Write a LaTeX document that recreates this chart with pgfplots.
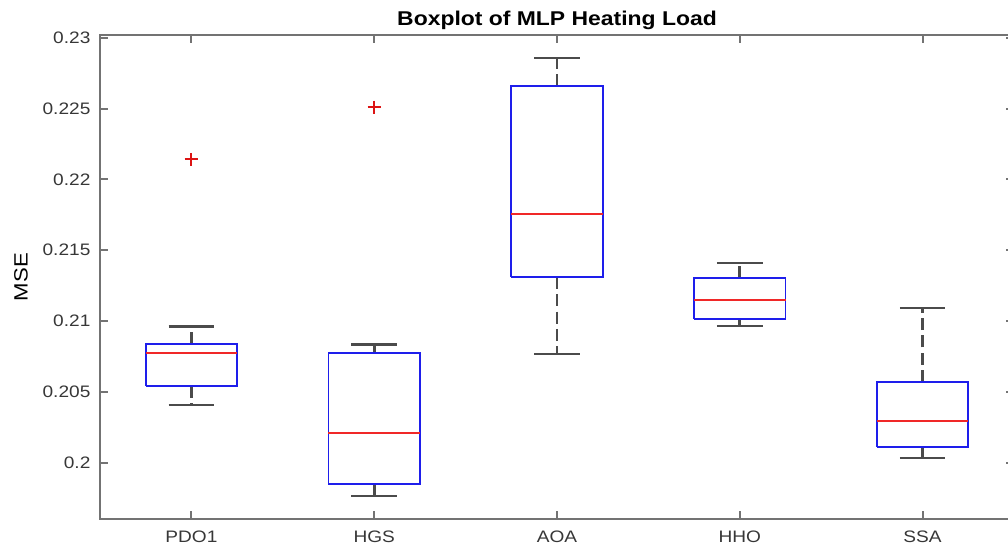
\documentclass[border=0pt]{standalone}
\usepackage{fontspec}
\setmainfont{Liberation Sans}[FakeStretch=1.15]
\usepackage{pgfplots}
\pgfplotsset{compat=1.18}

\definecolor{axgray}{RGB}{115,115,115}
\definecolor{boxblue}{RGB}{30,30,235}
\definecolor{medred}{RGB}{240,40,40}
\definecolor{outred}{RGB}{220,20,20}
\definecolor{wgray}{RGB}{75,75,75}
\definecolor{lblgray}{RGB}{55,55,55}

\pgfplotsset{
  whisk/.style={wgray, line width=2.2bp, dash pattern=on 9bp off 4bp, mark=none},
  cap/.style={wgray, line width=1.7bp, solid, mark=none},
  bx/.style={boxblue, line width=1.4bp, solid, mark=none, line join=miter},
  med/.style={medred, line width=1.4bp, solid, mark=none},
}

\begin{document}
\begin{tikzpicture}
\begin{axis}[
  name=ax,
  scale only axis,
  width=685.5bp, height=363.2bp,
  xmin=0.5, xmax=5.5,
  ymin=0.196, ymax=0.2302,
  xtick={1,2,3,4,5},
  xticklabels={PDO1,HGS,AOA,HHO,SSA},
  ytick={0.2,0.205,0.21,0.215,0.22,0.225,0.23},
  yticklabels={0.2,0.205,0.21,0.215,0.22,0.225,0.23},
  tick align=inside,
  major tick length=6bp,
  axis line style={axgray, line width=1.6bp},
  every tick/.style={axgray, line width=1.6bp},
  tick label style={font=\fontsize{12.5}{14}\selectfont, text=lblgray},
  xticklabel style={anchor=north, inner sep=0pt, yshift=-8.25bp},
  yticklabel style={anchor=east, inner sep=0pt, xshift=-7bp},
  title={Boxplot of MLP Heating Load},
  title style={font=\fontsize{15}{18}\selectfont\bfseries, text=black,
    at={(axis description cs:0.5,1)}, anchor=base, yshift=1.5bp, inner sep=0pt},
  ylabel={MSE},
  ylabel style={font=\fontsize{14.5}{17}\selectfont, text=black,
    at={(axis description cs:-0.0864,0.5)}, anchor=center, inner sep=0pt},
  clip=false,
]
% ---------- PDO1 (lw 0.20405, q1 0.20543, med 0.20776, q3 0.20835, uw 0.20962)
\addplot[whisk] coordinates {(1,0.20835) (1,0.20962)};
\addplot[whisk] coordinates {(1,0.20543) (1,0.20405)};
\addplot[cap] coordinates {(0.875,0.20962) (1.125,0.20962)};
\addplot[cap] coordinates {(0.875,0.20405) (1.125,0.20405)};
\addplot[bx] coordinates {(0.75,0.20543) (1.25,0.20543) (1.25,0.20835) (0.75,0.20835) (0.75,0.20543)};
\addplot[med] coordinates {(0.75,0.20776) (1.25,0.20776)};
% ---------- HGS (lw 0.19763, q1 0.19852, med 0.20207, q3 0.20772, uw 0.20835)
\addplot[whisk] coordinates {(2,0.20772) (2,0.20835)};
\addplot[whisk] coordinates {(2,0.19852) (2,0.19763)};
\addplot[cap] coordinates {(1.875,0.20835) (2.125,0.20835)};
\addplot[cap] coordinates {(1.875,0.19763) (2.125,0.19763)};
\addplot[bx] coordinates {(1.75,0.19852) (2.25,0.19852) (2.25,0.20772) (1.75,0.20772) (1.75,0.19852)};
\addplot[med] coordinates {(1.75,0.20207) (2.25,0.20207)};
% ---------- AOA (lw 0.20767, q1 0.21312, med 0.21755, q3 0.22658, uw 0.22860)
\addplot[whisk] coordinates {(3,0.22658) (3,0.22860)};
\addplot[whisk] coordinates {(3,0.21312) (3,0.20767)};
\addplot[cap] coordinates {(2.875,0.22860) (3.125,0.22860)};
\addplot[cap] coordinates {(2.875,0.20767) (3.125,0.20767)};
\addplot[bx] coordinates {(2.75,0.21312) (3.25,0.21312) (3.25,0.22658) (2.75,0.22658) (2.75,0.21312)};
\addplot[med] coordinates {(2.75,0.21755) (3.25,0.21755)};
% ---------- HHO (lw 0.20967, q1 0.21012, med 0.21148, q3 0.21301, uw 0.21411)
\addplot[whisk] coordinates {(4,0.21301) (4,0.21411)};
\addplot[whisk] coordinates {(4,0.21012) (4,0.20967)};
\addplot[cap] coordinates {(3.875,0.21411) (4.125,0.21411)};
\addplot[cap] coordinates {(3.875,0.20967) (4.125,0.20967)};
\addplot[bx] coordinates {(3.75,0.21012) (4.25,0.21012) (4.25,0.21301) (3.75,0.21301) (3.75,0.21012)};
\addplot[med] coordinates {(3.75,0.21148) (4.25,0.21148)};
% ---------- SSA (lw 0.20035, q1 0.20113, med 0.20292, q3 0.20569, uw 0.21094)
\addplot[whisk] coordinates {(5,0.20569) (5,0.21094)};
\addplot[whisk] coordinates {(5,0.20113) (5,0.20035)};
\addplot[cap] coordinates {(4.875,0.21094) (5.125,0.21094)};
\addplot[cap] coordinates {(4.875,0.20035) (5.125,0.20035)};
\addplot[bx] coordinates {(4.75,0.20113) (5.25,0.20113) (5.25,0.20569) (4.75,0.20569) (4.75,0.20113)};
\addplot[med] coordinates {(4.75,0.20292) (5.25,0.20292)};
% ---------- outliers (PDO1, HGS)
\addplot[color=outred, only marks, mark=+, mark size=5bp,
  mark options={color=outred, line width=1.5bp, solid}]
  coordinates {(1,0.22141) (2,0.22510)};
\end{axis}
\pgfresetboundingbox
\path[use as bounding box]
  ([xshift=-75bp,yshift=-20.8bp]ax.south west) rectangle
  ([xshift=681bp,yshift=389.45bp]ax.south west);
\end{tikzpicture}
\end{document}
